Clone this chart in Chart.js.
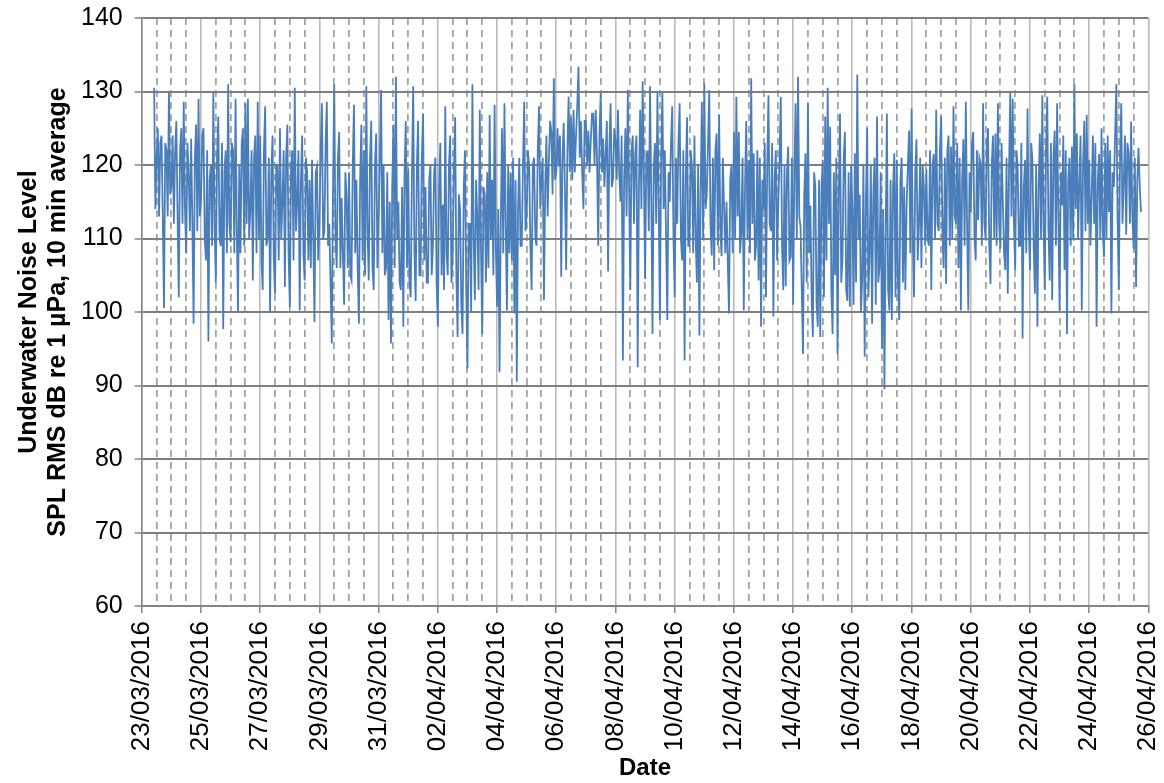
<!DOCTYPE html>
<html>
<head>
<meta charset="utf-8">
<title>Underwater noise level</title>
<script src="https://cdn.jsdelivr.net/npm/chart.js@4.4.1/dist/chart.umd.min.js"></script>
<style>
  html, body { margin: 0; padding: 0; background: #fff; }
  canvas { display: block; }
</style>
</head>
<body>
<canvas id="chart-noise" width="1164" height="783"></canvas>
<script>
// SPL record in 2-hour windows, first window starting 0.42 days after
// 23/03/2016 00:00. splPeaks holds the extreme reached in each window,
// splCore the level the signal swings back to an hour later.
const firstSampleDay = 0.42;
const sampleStepDays = 2 / 24;

const splPeaks = [
  130.5, 121, 113, 124, 100.5, 122, 130, 117, 112, 126,
  102, 125, 128.6, 108, 119, 123.6, 98.4, 125.5, 129, 115,
  125, 107, 96, 120, 130, 104, 126.6, 109, 97.7, 122,
  131, 109.5, 122, 129, 100, 108, 125, 128.4, 129, 114,
  104.3, 124, 128.6, 124, 103, 128, 110, 100, 124, 102.5,
  120, 125, 115, 103.4, 125.5, 100.7, 122, 130.5, 115, 100.2,
  124, 104.3, 119, 118, 120.7, 98.6, 119.8, 112, 128.4, 111,
  128.6, 112, 95.7, 131, 106, 124.5, 115.5, 101, 116, 119,
  104.3, 128.2, 118, 98.4, 125.5, 122, 130.7, 104.3, 126, 103,
  124.3, 113, 130.2, 120, 106, 98.9, 95.7, 125.5, 132, 115,
  103, 98, 126, 119.5, 102, 130.7, 101.5, 126, 105, 127,
  117, 104, 120, 109, 121, 98, 123, 114.6, 128, 105,
  124, 108, 126.5, 96.6, 114, 97, 122, 92.3, 112, 131,
  101.6, 112.5, 127.5, 97, 116, 119, 126.8, 118, 128.2, 100.7,
  91.8, 125, 128.4, 100.2, 108, 107, 99.8, 90.5, 121, 109,
  128.6, 113, 120, 103, 121, 109, 128, 118, 101.6, 124,
  120.5, 124.5, 131.8, 119, 119.8, 104.8, 125.7, 105.7, 129.3, 126.5,
  127.5, 124, 133.4, 126, 114, 126, 124.7, 123.5, 127, 127.5,
  109, 129.8, 123.6, 121.5, 105.5, 128.4, 118, 123.4, 127.5, 115,
  93.4, 125, 130.2, 103, 124, 121.5, 92.5, 127.5, 131.4, 104.5,
  122, 130.7, 97, 123, 130, 98.9, 130, 122, 98.9, 115,
  128, 102, 112, 128.4, 107, 93.4, 126.5, 109, 119.8, 124,
  104, 96.8, 128.6, 131.1, 116, 130.2, 107.7, 105.7, 124.3, 126.8,
  107.6, 114.5, 115, 99.8, 120, 124.5, 129.3, 124.5, 111, 100.2,
  126, 120.7, 131.8, 121.6, 109, 104.3, 98, 113.9, 102, 129.5,
  111, 99.4, 122, 115, 129.3, 103, 103.5, 122.5, 107.5, 101,
  128.4, 132, 111.6, 94.3, 121.6, 128.4, 114.5, 96.6, 117, 98,
  96.6, 120.7, 126.6, 130.5, 125.2, 97, 105, 94.3, 127, 107,
  124.5, 101.5, 100.7, 114, 121.6, 132.3, 116, 104.5, 93.9, 125,
  108, 98.4, 121, 126.6, 106, 95, 89.5, 127, 100.2, 98.9,
  121.6, 120.7, 98.9, 121, 117, 114.5, 124.7, 127.7, 102, 123.5,
  111.6, 106, 117, 119.5, 109, 103, 121.5, 127.5, 111, 126.6,
  106, 103.8, 124, 122.5, 128, 112, 106, 100.2, 123.5, 128.6,
  100.2, 113.5, 124.5, 107, 112.5, 120.2, 128.4, 110, 125, 103.8,
  124, 124.3, 128.4, 108.6, 115, 105.7, 102.5, 130, 129, 105.7,
  120, 109, 96.4, 120.7, 127.7, 105.7, 120.7, 102.5, 98, 124.3,
  129.5, 103, 129.3, 104.3, 101.6, 124.7, 128.4, 100.2, 114.5, 105.7,
  97, 121, 122.5, 131, 124.3, 117.5, 100.2, 126, 126.8, 120.7,
  115.5, 112, 98, 121.5, 125, 107.5, 110, 113.6, 99.8, 117,
  131, 103, 128.4, 117.5, 110.5, 121.6, 125.9, 108.6, 103.4, 122.3,
  113.6
];

const splCore = [
  114, 125, 123, 113, 123, 113, 116, 124, 122, 113,
  122, 112, 114, 123, 111, 112, 121, 111, 113, 124,
  110, 122, 118, 109, 112, 121, 110, 123, 119, 108,
  112, 123, 108, 111, 120, 123, 109, 112, 110, 122,
  121, 108, 110, 107, 122, 109, 121, 119, 107, 120,
  107, 110, 122, 121, 108, 120, 107, 111, 122, 118,
  108, 121, 107, 106, 110, 119, 107, 122, 110, 123,
  109, 104, 117, 110, 121, 106, 108, 119, 106, 105,
  120, 108, 106, 118, 107, 105, 111, 121, 106, 120,
  106, 121, 108, 105, 119, 115, 117, 106, 110, 104,
  117, 119, 106, 104, 119, 108, 120, 105, 121, 107,
  104, 118, 105, 119, 104, 117, 105, 103, 108, 120,
  104, 119, 105, 116, 101, 117, 103, 112, 100, 110,
  118, 103, 108, 117, 104, 106, 110, 105, 109, 114,
  112, 108, 112, 120, 119, 121, 118, 114, 109, 120,
  111, 122, 109, 120, 110, 122, 114, 121, 117, 113,
  126, 116, 118, 125, 124, 121, 117, 122, 119, 118,
  119, 128, 121, 119, 126, 120, 119, 127, 120, 121,
  124, 119, 117, 126, 122, 117, 125, 118, 119, 124,
  118, 113, 117, 122, 112, 124, 117, 114, 119, 121,
  111, 116, 120, 112, 115, 121, 114, 110, 119, 123,
  110, 121, 123, 110, 122, 118, 109, 122, 108, 110,
  120, 116, 110, 114, 123, 112, 121, 122, 109, 111,
  121, 108, 107, 118, 108, 110, 113, 108, 121, 117,
  110, 108, 112, 107, 122, 121, 118, 123, 120, 112,
  123, 118, 107, 121, 109, 120, 119, 107, 121, 119,
  110, 113, 103, 116, 104, 108, 102, 119, 101, 118,
  117, 102, 107, 112, 103, 119, 121, 116, 104, 121,
  103, 119, 120, 101, 104, 110, 100, 120, 115, 102,
  120, 116, 101, 104, 119, 114, 110, 103, 118, 117,
  102, 104, 118, 104, 103, 120, 108, 110, 119, 107,
  121, 120, 109, 110, 122, 120, 110, 112, 122, 111,
  121, 122, 109, 110, 113, 123, 121, 118, 109, 112,
  119, 123, 110, 122, 121, 109, 112, 123, 109, 120,
  110, 109, 112, 123, 108, 121, 119, 113, 112, 122,
  109, 123, 117, 108, 112, 123, 109, 120, 117, 110,
  112, 122, 111, 123, 121, 109, 113, 119, 124, 122,
  118, 109, 110, 114, 110, 124, 120, 111, 112, 109,
  124, 123, 118, 110, 111, 123, 124, 122, 119, 124,
  113, 121, 112, 124, 123, 112, 113, 121, 118, 117
];

// x axis: day 0 = 23/03/2016, labelled every 2 days
const dateLabels = [
  '23/03/2016', '25/03/2016', '27/03/2016', '29/03/2016', '31/03/2016', '02/04/2016',
  '04/04/2016', '06/04/2016', '08/04/2016', '10/04/2016', '12/04/2016', '14/04/2016',
  '16/04/2016', '18/04/2016', '20/04/2016', '22/04/2016', '24/04/2016', '26/04/2016'
];
const yTicks = [60, 70, 80, 90, 100, 110, 120, 130, 140];

const yTitle = ['Underwater Noise Level', 'SPL RMS dB re 1 \u00B5Pa, 10 min average'];
const xTitle = 'Date';

(function () {
  const family = "'Liberation Sans', Arial, sans-serif";
  const daySpan = (dateLabels.length - 1) * 2;

  // window extreme, then the core level half a window later
  const points = [];
  splPeaks.forEach((v, i) => {
    const t = firstSampleDay + i * sampleStepDays;
    points.push({ x: t, y: v });
    if (i < splCore.length) points.push({ x: t + sampleStepDays / 2, y: splCore[i] });
  });

  // keep the plot box fixed: no extra room for half-labels at the ends
  const noEdgePad = (s) => { s.paddingLeft = 0; s.paddingRight = 0; s.paddingTop = 0; s.paddingBottom = 0; };

  new Chart(document.getElementById('chart-noise'), {
    type: 'line',
    data: {
      datasets: [{
        label: 'SPL',
        data: points,
        borderColor: '#4a7ebb',
        borderWidth: 1.8,
        pointRadius: 0,
        tension: 0,
        fill: false,
      }],
    },
    options: {
      responsive: false,
      animation: false,
      devicePixelRatio: 1,
      layout: { padding: { top: 18, right: 15.7, left: 0, bottom: 0 } },
      plugins: { legend: { display: false }, tooltip: { enabled: false } },
      scales: {
        x: {
          type: 'linear',
          min: 0,
          max: daySpan,
          afterFit: (s) => { s.height = 177; noEdgePad(s); },
          ticks: {
            stepSize: 2,
            autoSkip: false,
            minRotation: 90,
            maxRotation: 90,
            padding: 8,
            color: '#000',
            font: { family, size: 26 },
            callback: (v) => dateLabels[Math.round(v / 2)],
          },
          grid: { color: '#bababa', lineWidth: 1.6, tickLength: 7, tickColor: '#858585', tickWidth: 1.5 },
          border: { color: '#858585', width: 1.5 },
          title: {
            display: true,
            text: xTitle,
            color: '#000',
            font: { family, size: 24, weight: 'bold' },
            padding: { top: 0, bottom: 0 },
          },
        },
        // half-day dashed lines between the 2-day grid
        xMinor: {
          type: 'linear',
          position: 'bottom',
          min: 0,
          max: daySpan,
          afterFit: (s) => { s.height = 0; noEdgePad(s); },
          ticks: { display: false, stepSize: 0.5 },
          grid: {
            drawTicks: false,
            lineWidth: 1.8,
            color: (ctx) => (ctx.tick && ctx.tick.value % 2 === 0) ? 'rgba(0,0,0,0)' : '#a3a3a3',
          },
          border: { display: false, dash: [7, 5] },
        },
        y: {
          min: yTicks[0],
          max: yTicks[yTicks.length - 1],
          afterFit: (s) => { s.width = 141.7; noEdgePad(s); },
          afterBuildTicks: (s) => { s.ticks = yTicks.map((v) => ({ value: v })); },
          ticks: {
            padding: 12,
            color: '#000',
            font: { family, size: 25 },
          },
          grid: { color: '#7f7f7f', lineWidth: 2, tickLength: 7, tickColor: '#858585', tickWidth: 1.5 },
          border: { color: '#858585', width: 1.5 },
          title: {
            display: true,
            text: yTitle,
            color: '#000',
            font: { family, size: 25, weight: 'bold', lineHeight: 1.18 },
            padding: { top: 14, bottom: 0 },
          },
        },
      },
    },
  });
})();
</script>
</body>
</html>
